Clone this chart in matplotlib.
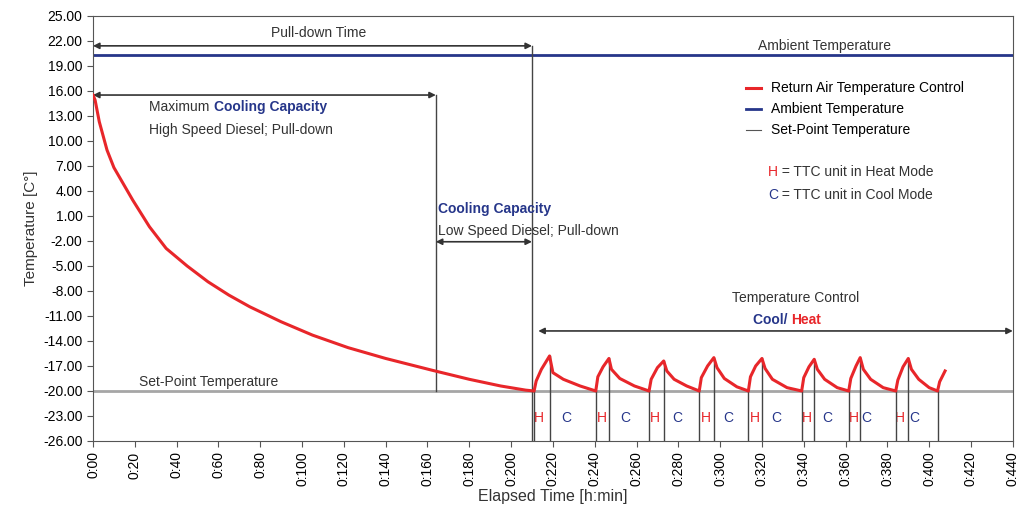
import numpy as np
import matplotlib
matplotlib.use('Agg')
import matplotlib.pyplot as plt

plt.rcParams['font.family'] = ['Liberation Sans', 'DejaVu Sans']

RED = '#e8262a'
NAVY = '#26368a'
DARK = '#333333'

# pull-down phase, return air temperature (minutes, deg C)
pulldown_t = [0, 1, 3, 6.7, 10, 19, 27, 35, 45, 55, 65, 75, 90, 105, 122, 140, 162, 180, 195, 207, 211]
pulldown_v = [15.5, 14.9, 12.3, 8.9, 6.8, 2.9, -0.3, -2.9, -5.0, -6.9, -8.5, -9.9, -11.7, -13.3,
              -14.8, -16.1, -17.5, -18.6, -19.4, -19.9, -20.0]

# temperature control phase, heat / cool cycles around the set point
control_t = [211, 212, 214.5, 218.4, 220, 225, 233,
             240.5, 241.5, 244, 246.8, 248, 252, 259,
             266, 267, 270, 273, 274.5, 278, 284,
             290, 291, 294, 297, 298.5, 302, 308,
             313.5, 314.5, 317, 320, 321.5, 325, 332,
             339, 340, 342.5, 345, 346.5, 350, 356,
             361.5, 362.5, 365, 367, 368.5, 372, 378,
             384, 385, 387.5, 390, 391.5, 395, 400,
             404, 405, 407.6]
control_v = [-20.0, -18.8, -17.4, -15.8, -17.8, -18.6, -19.4,
             -20.0, -18.3, -17.1, -16.1, -17.4, -18.5, -19.4,
             -20.0, -18.6, -17.2, -16.4, -17.6, -18.6, -19.4,
             -20.0, -18.4, -17.0, -16.0, -17.2, -18.5, -19.5,
             -20.0, -18.3, -17.0, -16.1, -17.3, -18.6, -19.6,
             -20.0, -18.4, -17.1, -16.2, -17.4, -18.6, -19.6,
             -20.0, -18.5, -17.0, -16.0, -17.4, -18.6, -19.6,
             -20.0, -18.7, -17.1, -16.1, -17.4, -18.6, -19.6,
             -20.0, -18.9, -17.6]

# switch points: heater on (cycle start) and cooling on (peak)
heat_on_t = [211, 240.5, 266, 290, 313.5, 339, 361.5, 384, 404]
cool_on_t = [218.4, 246.8, 273, 297, 320, 345, 367, 390]
h_label_t = [213.5, 243.5, 269, 293, 316.8, 341.5, 364, 386]
c_label_t = [226.5, 254.5, 279.5, 304, 327, 351, 369.8, 393]

ambient = 20.3
set_point = -20.0

# phase markers
pulldown_end = 210
max_cap_end = 164
pulldown_arrow_y = 21.4
max_cap_arrow_y = 15.5
low_cap_arrow_y = -2.1
control_arrow_y = -12.8

fig = plt.figure(figsize=(10.22, 5.11), dpi=100)
ax = fig.add_axes([0.091, 0.137, 0.9, 0.832])

ax.plot(pulldown_t + control_t, pulldown_v + control_v, color=RED, lw=2.2, zorder=5,
        label='Return Air Temperature Control')
ax.axhline(ambient, color=NAVY, lw=2.0, label='Ambient Temperature')
ax.axhline(set_point, color='#a6a6a6', lw=2.0, zorder=2)
ax.plot([], [], color='#555555', lw=0.8, label='Set-Point Temperature')

# vertical markers at the mode switches
for t in heat_on_t + cool_on_t:
    y0 = np.interp(t, control_t, control_v)
    ax.plot([t, t], [-26, y0], color='#444444', lw=1.0, zorder=4)
for t in h_label_t:
    ax.text(t, -23.2, 'H', color=RED, fontsize=10, ha='center', va='center')
for t in c_label_t:
    ax.text(t, -23.2, 'C', color=NAVY, fontsize=10, ha='center', va='center')

# phase boundaries and spans
ax.plot([pulldown_end, pulldown_end], [-26, pulldown_arrow_y], color='#444444', lw=1.0)
ax.plot([max_cap_end, max_cap_end], [set_point, max_cap_arrow_y], color='#444444', lw=1.0)
arrow = dict(arrowstyle='<|-|>', color=DARK, lw=1.2, mutation_scale=9, shrinkA=0, shrinkB=0)
ax.annotate('', xy=(0, pulldown_arrow_y), xytext=(pulldown_end, pulldown_arrow_y), arrowprops=arrow)
ax.annotate('', xy=(0, max_cap_arrow_y), xytext=(max_cap_end, max_cap_arrow_y), arrowprops=arrow)
ax.annotate('', xy=(max_cap_end, low_cap_arrow_y), xytext=(pulldown_end, low_cap_arrow_y), arrowprops=arrow)
ax.annotate('', xy=(213, control_arrow_y), xytext=(440, control_arrow_y), arrowprops=arrow)

ax.text(108, 23.0, 'Pull-down Time', fontsize=10, color=DARK, ha='center', va='center')
ax.text(350, 21.4, 'Ambient Temperature', fontsize=10, color=DARK, ha='center', va='center')
ax.text(22, -18.9, 'Set-Point Temperature', fontsize=10, color=DARK, va='center')

t1 = ax.text(27, 14.1, 'Maximum ', fontsize=10, color=DARK, va='center')
ax.annotate('Cooling Capacity', xy=(1, 0.5), xycoords=t1, va='center', fontsize=10,
            color=NAVY, fontweight='bold')
ax.text(27, 11.3, 'High Speed Diesel; Pull-down', fontsize=10, color=DARK, va='center')

ax.text(165, 1.8, 'Cooling Capacity', fontsize=10, color=NAVY, fontweight='bold', va='center')
ax.text(165, -0.8, 'Low Speed Diesel; Pull-down', fontsize=10, color=DARK, va='center')

ax.text(336, -8.8, 'Temperature Control', fontsize=10, color=DARK, ha='center', va='center')
t2 = ax.text(334, -11.5, 'Cool/ ', fontsize=10, color=NAVY, fontweight='bold', ha='right', va='center')
ax.annotate('Heat', xy=(1, 0.5), xycoords=t2, va='center', fontsize=10, color=RED, fontweight='bold')

ax.legend(loc='upper left', bbox_to_anchor=(0.696, 0.875), frameon=False, fontsize=10,
          handlelength=1.1, handletextpad=0.75, labelspacing=0.5)

t3 = ax.text(323, 6.3, 'H', fontsize=10, color=RED, va='center')
ax.annotate(' = TTC unit in Heat Mode', xy=(1, 0.5), xycoords=t3, va='center', fontsize=10, color=DARK)
t4 = ax.text(323, 3.5, 'C', fontsize=10, color=NAVY, va='center')
ax.annotate(' = TTC unit in Cool Mode', xy=(1, 0.5), xycoords=t4, va='center', fontsize=10, color=DARK)

ax.set_xlim(0, 440)
ax.set_ylim(-26, 25)
ax.set_yticks(np.arange(-26, 26, 3))
ax.set_yticklabels(['%.2f' % v for v in np.arange(-26, 26, 3)], fontsize=10)
xt = np.arange(0, 441, 20)
ax.set_xticks(xt)
ax.set_xticklabels(['0:%02d' % m for m in xt], rotation=90, fontsize=10)
ax.tick_params(length=4, color='#555555')
for s in ax.spines.values():
    s.set_color('#555555')

ax.set_ylabel('Temperature [C°]', fontsize=11, color=DARK)
ax.set_xlabel('Elapsed Time [h:min]', fontsize=11.5, color=DARK, labelpad=2)

plt.savefig('out.png', dpi=100)
